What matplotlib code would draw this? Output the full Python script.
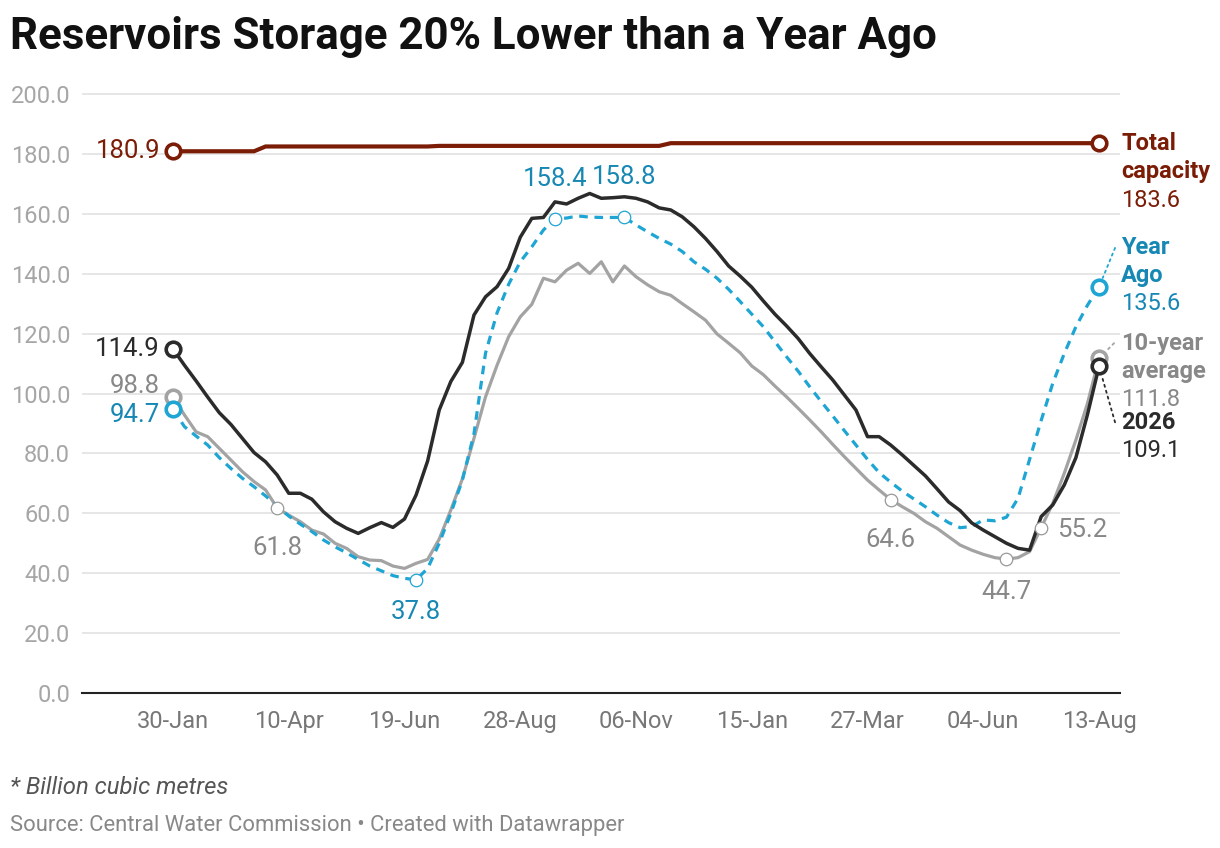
import matplotlib.pyplot as plt
import numpy as np

plt.rcParams['font.family'] = ['Roboto', 'DejaVu Sans']

# Weekly readings, billion cubic metres (30-Jan .. 13-Aug next year)
TICK_LABELS = ['30-Jan', '10-Apr', '19-Jun', '28-Aug', '06-Nov', '15-Jan', '27-Mar', '04-Jun', '13-Aug']

current = [114.9, 109.4, 104.2, 98.8, 93.6, 89.7, 85.0, 80.3, 77.2, 72.8,
           66.7, 66.7, 64.7, 60.5, 57.2, 55.0, 53.3, 55.2, 56.9, 55.3,
           58.1, 66.1, 77.5, 94.5, 104.0, 110.4, 126.2, 132.3, 135.7, 141.8,
           152.2, 158.5, 158.8, 164.0, 163.3, 165.2, 166.8, 165.2, 165.4, 165.7,
           165.2, 164.0, 162.0, 161.3, 159.0, 155.7, 151.8, 147.4, 142.6, 139.2,
           135.5, 130.9, 126.5, 122.6, 118.4, 113.4, 108.9, 104.5, 99.5, 94.5,
           85.6, 85.6, 82.8, 79.5, 76.0, 72.5, 68.2, 63.8, 60.9, 56.8,
           54.4, 52.2, 50.0, 48.3, 47.7, 58.9, 62.8, 69.5, 78.6, 93.0,
           109.1]

ten_year_avg = [98.8, 92.8, 87.2, 85.6, 81.7, 77.8, 73.9, 70.6, 67.8, 61.8,
                59.4, 57.2, 54.4, 53.1, 50.0, 48.3, 45.5, 44.4, 44.2, 42.4,
                41.6, 43.3, 44.6, 51.4, 61.1, 71.5, 85.0, 98.9, 109.5, 119.0,
                125.6, 129.8, 138.5, 137.3, 141.2, 143.5, 140.1, 144.0, 137.3, 142.6,
                139.0, 136.3, 134.0, 132.8, 130.0, 127.3, 124.5, 119.9, 116.8, 113.6,
                109.2, 106.3, 102.5, 98.9, 95.1, 91.2, 87.2, 83.0, 78.9, 75.0,
                71.1, 67.8, 64.6, 62.2, 60.0, 57.2, 55.0, 52.2, 49.4, 47.7,
                46.3, 45.2, 44.7, 45.2, 47.2, 55.2, 63.3, 73.4, 84.5, 96.7,
                111.8]

year_ago = [94.7, 88.9, 85.8, 82.8, 78.6, 75.0, 71.7, 68.9, 65.8, 62.4,
            59.1, 56.4, 53.9, 51.1, 48.8, 46.8, 44.6, 42.4, 40.8, 39.2,
            38.3, 37.8, 41.6, 50.0, 60.0, 71.1, 86.5, 113.5, 127.0, 136.5,
            144.0, 149.0, 154.6, 158.4, 158.6, 159.3, 158.9, 158.8, 158.8, 158.8,
            156.3, 154.0, 151.8, 149.9, 147.4, 144.0, 141.5, 138.5, 134.8, 130.7,
            126.5, 122.3, 117.3, 112.3, 107.5, 102.3, 97.3, 92.5, 87.6, 82.8,
            78.0, 73.6, 70.4, 67.4, 64.8, 62.2, 59.4, 56.9, 55.2, 55.6,
            57.8, 57.5, 58.7, 65.0, 78.0, 91.0, 103.4, 113.4, 122.3, 129.5,
            135.6]

capacity = [180.9] * 8 + [182.5] * 15 + [182.7] * 20 + [183.6] * 38

# week indices that carry a value label
GREY_NOTES = [9, 62, 72, 75]
BLUE_NOTES = [21, 33, 39]

RED = '#7b1c06'
BLACK = '#2b2b2b'
GREY = '#a3a3a3'
GREY_TEXT = '#888888'
BLUE = '#1fa5d4'
BLUE_TEXT = '#1788b4'

PX = 0.72  # pixels -> points at dpi 100
NOTE_SIZE = 18.5
END_SIZE = 17


def end_marker(ax, x, y, color, z):
    ax.plot(x, y, 'o', ms=10.5, mfc='white', mec=color, mew=2.6, zorder=z, clip_on=False)


def note_marker(ax, x, y, color):
    ax.plot(x, y, 'o', ms=9, mfc='white', mec=color, mew=0.9, zorder=6)


def note(ax, x, y, text, color, dx, dy, ha='center', weight='normal', size=NOTE_SIZE):
    ax.annotate(text, (x, y), xytext=(dx * PX, dy * PX), textcoords='offset points',
                ha=ha, va='center', color=color, fontsize=size, fontweight=weight,
                annotation_clip=False)


def connector(ax, x, y, color, dx, dy):
    ax.annotate('', (x, y), xytext=(dx * PX, dy * PX), textcoords='offset points',
                arrowprops=dict(arrowstyle='-', linestyle=(0, (1.2, 2.2)), color=color,
                                lw=1.3, shrinkA=0, shrinkB=7),
                annotation_clip=False)


def draw_chart():
    weeks = np.arange(len(current))
    last = weeks[-1]

    fig = plt.figure(figsize=(12.2, 8.48), dpi=100)
    ax = fig.add_axes([82 / 1220, 155 / 848, 1038 / 1220, 613 / 848])

    ax.plot(weeks, ten_year_avg, color=GREY, lw=2.3, zorder=3)
    ax.plot(weeks, year_ago, color=BLUE, lw=2.3, dashes=(2.7, 2.1), zorder=4)
    ax.plot(weeks, current, color=BLACK, lw=2.5, zorder=5)
    ax.plot(weeks, capacity, color=RED, lw=3.0, zorder=5, solid_joinstyle='miter')

    for series, color, z in [(capacity, RED, 8), (ten_year_avg, GREY, 7),
                             (year_ago, BLUE, 7), (current, BLACK, 8)]:
        end_marker(ax, 0, series[0], color, z)
        end_marker(ax, last, series[-1], color, z)

    for i in GREY_NOTES:
        note_marker(ax, i, ten_year_avg[i], '#999999')
    for i in BLUE_NOTES:
        note_marker(ax, i, year_ago[i], BLUE)

    # value labels along the lines
    note(ax, 9, ten_year_avg[9], f'{ten_year_avg[9]:.1f}', GREY_TEXT, 0, -40)
    note(ax, 62, ten_year_avg[62], f'{ten_year_avg[62]:.1f}', GREY_TEXT, 0, -40)
    note(ax, 72, ten_year_avg[72], f'{ten_year_avg[72]:.1f}', GREY_TEXT, 0, -33)
    note(ax, 75, ten_year_avg[75], f'{ten_year_avg[75]:.1f}', GREY_TEXT, 16, -2, ha='left')
    note(ax, 21, year_ago[21], f'{year_ago[21]:.1f}', BLUE_TEXT, 0, -32)
    note(ax, 33, year_ago[33], f'{year_ago[33]:.1f}', BLUE_TEXT, 0, 40)
    note(ax, 39, year_ago[39], f'{year_ago[39]:.1f}', BLUE_TEXT, 0, 40)

    # start values
    note(ax, 0, capacity[0], f'{capacity[0]:.1f}', RED, -13, 0, ha='right')
    note(ax, 0, current[0], f'{current[0]:.1f}', BLACK, -13, 0, ha='right')
    note(ax, 0, ten_year_avg[0], f'{ten_year_avg[0]:.1f}', GREY_TEXT, -13, 11, ha='right')
    note(ax, 0, year_ago[0], f'{year_ago[0]:.1f}', BLUE_TEXT, -13, -6, ha='right')

    # end labels
    note(ax, last, capacity[-1], 'Total', RED, 22, 0, ha='left', weight='bold', size=END_SIZE)
    note(ax, last, capacity[-1], 'capacity', RED, 22, -28, ha='left', weight='bold', size=END_SIZE)
    note(ax, last, capacity[-1], f'{capacity[-1]:.1f}', RED, 22, -57, ha='left', size=END_SIZE)

    connector(ax, last, year_ago[-1], BLUE, 16, 39)
    note(ax, last, year_ago[-1], 'Year', BLUE_TEXT, 22, 39, ha='left', weight='bold', size=END_SIZE)
    note(ax, last, year_ago[-1], 'Ago', BLUE_TEXT, 22, 11, ha='left', weight='bold', size=END_SIZE)
    note(ax, last, year_ago[-1], f'{year_ago[-1]:.1f}', BLUE_TEXT, 22, -17, ha='left', size=END_SIZE)

    connector(ax, last, ten_year_avg[-1], GREY, 15, 15)
    note(ax, last, ten_year_avg[-1], '10-year', GREY_TEXT, 22, 15, ha='left', weight='bold', size=END_SIZE)
    note(ax, last, ten_year_avg[-1], 'average', GREY_TEXT, 22, -13, ha='left', weight='bold', size=END_SIZE)
    note(ax, last, ten_year_avg[-1], f'{ten_year_avg[-1]:.1f}', GREY_TEXT, 22, -41, ha='left', size=END_SIZE)

    connector(ax, last, current[-1], BLACK, 16, -56)
    note(ax, last, current[-1], '2026', BLACK, 22, -56, ha='left', weight='bold', size=END_SIZE)
    note(ax, last, current[-1], f'{current[-1]:.1f}', BLACK, 22, -84, ha='left', size=END_SIZE)

    # axes
    ax.set_xlim(-7.86, 81.81)
    ax.set_ylim(0, 204.7)
    yticks = np.arange(0, 201, 20)
    ax.set_yticks(yticks)
    ax.set_yticklabels([f'{v:.1f}' for v in yticks])
    ax.set_xticks(np.arange(0, 81, 10))
    ax.set_xticklabels(TICK_LABELS)
    ax.tick_params(axis='y', length=0, pad=8.5, labelsize=17, labelcolor='#a6a6a6')
    ax.tick_params(axis='x', length=0, pad=12, labelsize=17, labelcolor='#777777')
    ax.grid(axis='y', color='#e4e4e4', lw=1.3)
    ax.set_axisbelow(True)
    for side in ['left', 'right', 'top']:
        ax.spines[side].set_visible(False)
    ax.spines['bottom'].set_color('#222222')
    ax.spines['bottom'].set_linewidth(1.5)

    fig.text(10 / 1220, 1 - 37 / 848, 'Reservoirs Storage 20% Lower than a Year Ago',
             fontsize=31.6, fontweight='bold', va='center', ha='left', color='#111111')
    fig.text(10 / 1220, 1 - 788 / 848, '* Billion cubic metres', fontsize=17.2,
             style='italic', va='center', ha='left', color='#555555')
    fig.text(10 / 1220, 1 - 825 / 848,
             'Source: Central Water Commission \u2022 Created with Datawrapper',
             fontsize=15.8, va='center', ha='left', color='#888888')

    fig.savefig('out.png', dpi=100)


if __name__ == '__main__':
    draw_chart()
